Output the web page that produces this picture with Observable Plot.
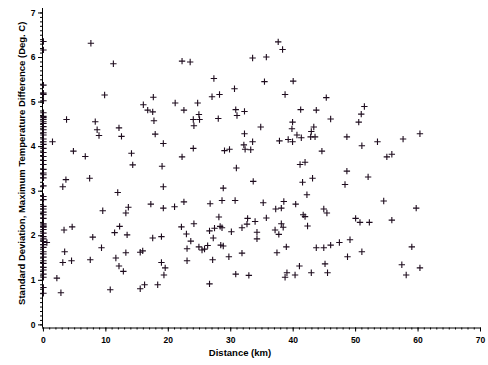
<!DOCTYPE html>
<html><head><meta charset="utf-8">
<script src="https://cdn.jsdelivr.net/npm/d3@7"></script>
<script src="https://cdn.jsdelivr.net/npm/@observablehq/plot@0.6"></script>
<style>
html,body{margin:0;padding:0;background:#fff;}
</style></head><body><div id="chart"></div>
<script>
// Stations at ~0 km distance (column on the y axis)
const colZeroSd = [6.36,6.17,5.38,5.20,5.17,5.03,4.76,4.68,4.65,4.61,4.56,4.52,4.45,4.38,4.31,4.26,4.17,4.11,4.05,3.96,3.87,3.78,3.69,3.60,3.49,3.41,3.37,3.30,3.12,2.88,2.81,2.66,2.60,2.53,2.47,2.39,2.27,2.24,2.21,2.19,2.14,2.06,1.98,1.93,1.87,1.80,1.74,1.64,1.59,1.52,1.44,1.38,1.29,1.23,1.14,1.07,0.84,0.71];

const otherDistance = [0.55,1.45,3.7,4.8,3.6,3.1,3.3,4.6,2.15,2.8,3.4,3.1,4.5,7.4,7.6,11.2,9.8,8.3,8.6,8.9,6.7,12.1,12.5,14.1,14.3,16.0,16.7,17.5,17.6,17.7,17.9,19.0,19.2,7.9,7.5,9.5,9.3,10.7,11.9,11.4,12.2,11.6,12.1,12.8,13.2,13.4,13.2,13.6,17.2,17.5,15.5,15.9,15.5,16.2,18.3,18.9,19.5,19.3,19.2,19.2,18.9,21.0,22.5,22.2,23.5,21.1,22.5,24.7,24.9,24.0,25.0,24.1,22.2,24.0,27.3,27.0,28.2,30.6,28.0,30.8,31.0,32.2,32.2,32.1,32.3,33.2,33.5,29.0,29.8,30.9,34.8,33.5,35.7,37.6,38.3,35.4,40.0,38.7,45.3,41.2,43.7,39.9,39.8,43.3,42.9,40.6,41.3,42.8,43.5,37.8,39.2,39.9,44.6,41.1,41.9,43.1,46.0,51.4,50.9,50.5,48.6,51.0,53.5,57.6,60.3,55.0,55.8,48.6,52.0,48.3,54.5,59.7,44.9,45.4,50.0,50.7,52.2,55.8,49.1,47.4,46.0,44.9,51.0,59.0,48.7,45.1,45.5,57.4,58.1,60.3,28.8,33.6,41.5,42.2,26.7,28.6,30.7,35.2,37.2,38.1,38.5,40.4,41.6,41.9,42.3,28.1,22.1,24.1,22.9,23.6,23.0,24.9,25.8,26.3,26.6,27.4,28.3,28.6,27.2,28.4,28.8,30.1,31.8,32.6,32.7,33.9,35.7,34.2,34.2,37.1,37.7,38.1,38.4,38.9,37.4,43.7,41.0,42.9,40.3,39.0,38.7,31.8,29.7,27.1,30.8,32.9,26.6,23.0,25.4];
const otherSd = [1.85,4.11,4.61,3.90,3.26,3.10,2.13,2.20,1.05,0.72,1.64,1.40,1.44,3.29,6.32,5.86,5.16,4.56,4.38,4.25,3.78,4.42,4.23,3.85,3.59,4.94,4.82,4.78,5.11,4.58,4.28,3.56,4.07,1.97,1.46,2.56,1.73,0.79,2.97,2.07,2.21,1.50,1.32,1.20,1.62,2.02,2.51,2.64,2.71,1.95,1.63,1.66,0.81,0.90,0.90,1.40,1.28,1.12,3.10,2.62,1.98,2.65,2.76,5.92,5.90,4.98,4.82,4.98,4.72,4.61,4.61,4.47,3.77,3.96,5.53,5.12,5.17,5.30,4.63,4.83,4.70,4.79,4.29,4.04,3.94,3.93,4.11,3.91,3.94,3.52,4.44,5.99,6.01,6.35,6.18,5.46,5.47,5.17,5.10,4.83,4.82,4.55,4.40,4.44,4.34,4.26,4.20,4.22,4.22,4.13,4.16,4.11,3.90,3.60,3.65,3.29,4.62,4.90,4.73,4.55,4.22,4.02,4.11,4.17,4.29,3.77,3.83,3.45,3.32,3.15,2.78,2.62,2.60,2.51,2.39,2.30,2.30,2.35,1.91,1.85,1.79,1.73,1.64,1.75,1.53,1.37,1.17,1.35,1.12,1.28,3.07,3.22,3.20,2.92,2.72,2.79,2.79,2.74,2.60,2.62,2.77,2.71,2.47,2.43,2.22,2.42,2.20,2.27,2.04,1.88,1.71,1.75,1.70,1.78,2.11,2.17,2.21,2.18,1.95,1.79,1.77,2.09,2.18,2.26,2.39,2.32,2.40,2.08,1.93,2.13,2.03,2.27,2.19,1.75,1.62,1.73,1.32,1.17,1.12,1.17,1.07,1.61,1.53,1.46,1.14,1.11,0.92,1.44,1.68];

const xTicks = [0,10,20,30,40,50,60,70];
const yTicks = [0,1,2,3,4,5,6,7];
const xTitle = "Distance (km)";
const yTitle = "Standard Deviation, Maximum Temperature Difference (Deg. C)";

const data = colZeroSd.map(v => ({distance: 0, sd: v}))
  .concat(otherDistance.map((d, i) => ({distance: d, sd: otherSd[i]})));

const font = "'Liberation Sans', Arial, Helvetica, sans-serif";
const plot = Plot.plot({
  width: 488, height: 365,
  marginLeft: 42, marginRight: 8, marginTop: 8, marginBottom: 37.5,
  style: {fontFamily: font, background: "#fff", overflow: "visible", color: "#000"},
  x: {domain: [-0.15, 70], label: null},
  y: {domain: [-0.07, 7.1], label: null},
  marks: [
    Plot.ruleX([-0.15], {stroke: "#000"}),
    Plot.ruleY([-0.07], {stroke: "#000"}),
    Plot.axisX(d3.range(0, 71, 1), {anchor: "bottom", tickSize: 2, tickFormat: () => "", label: null}),
    Plot.axisX(xTicks, {anchor: "bottom", tickSize: 4, tickPadding: 5, fontSize: 8.5, fontWeight: "bold", label: null}),
    Plot.axisY(d3.range(0, 71).map(i => i / 10), {anchor: "left", tickSize: 2, tickFormat: () => "", label: null}),
    Plot.axisY(yTicks, {anchor: "left", tickSize: 4, tickPadding: 3, fontSize: 8.5, fontWeight: "bold", label: null}),
    Plot.text([xTitle], {text: d => d, frameAnchor: "bottom", textAnchor: "middle", lineAnchor: "middle", dx: -21.5, dy: 25, fontSize: 9.5, fontWeight: "bold"}),
    Plot.text([yTitle], {text: d => d, frameAnchor: "left", textAnchor: "middle", lineAnchor: "middle", dx: -20.5, dy: -5, rotate: -90, fontSize: 9.5, fontWeight: "bold"}),
    Plot.dot(data, {x: "distance", y: "sd", symbol: "plus", r: 2.2, stroke: "#1e0c1e", strokeWidth: 1.1})
  ]
});
document.getElementById("chart").appendChild(plot);
</script>
</body></html>
